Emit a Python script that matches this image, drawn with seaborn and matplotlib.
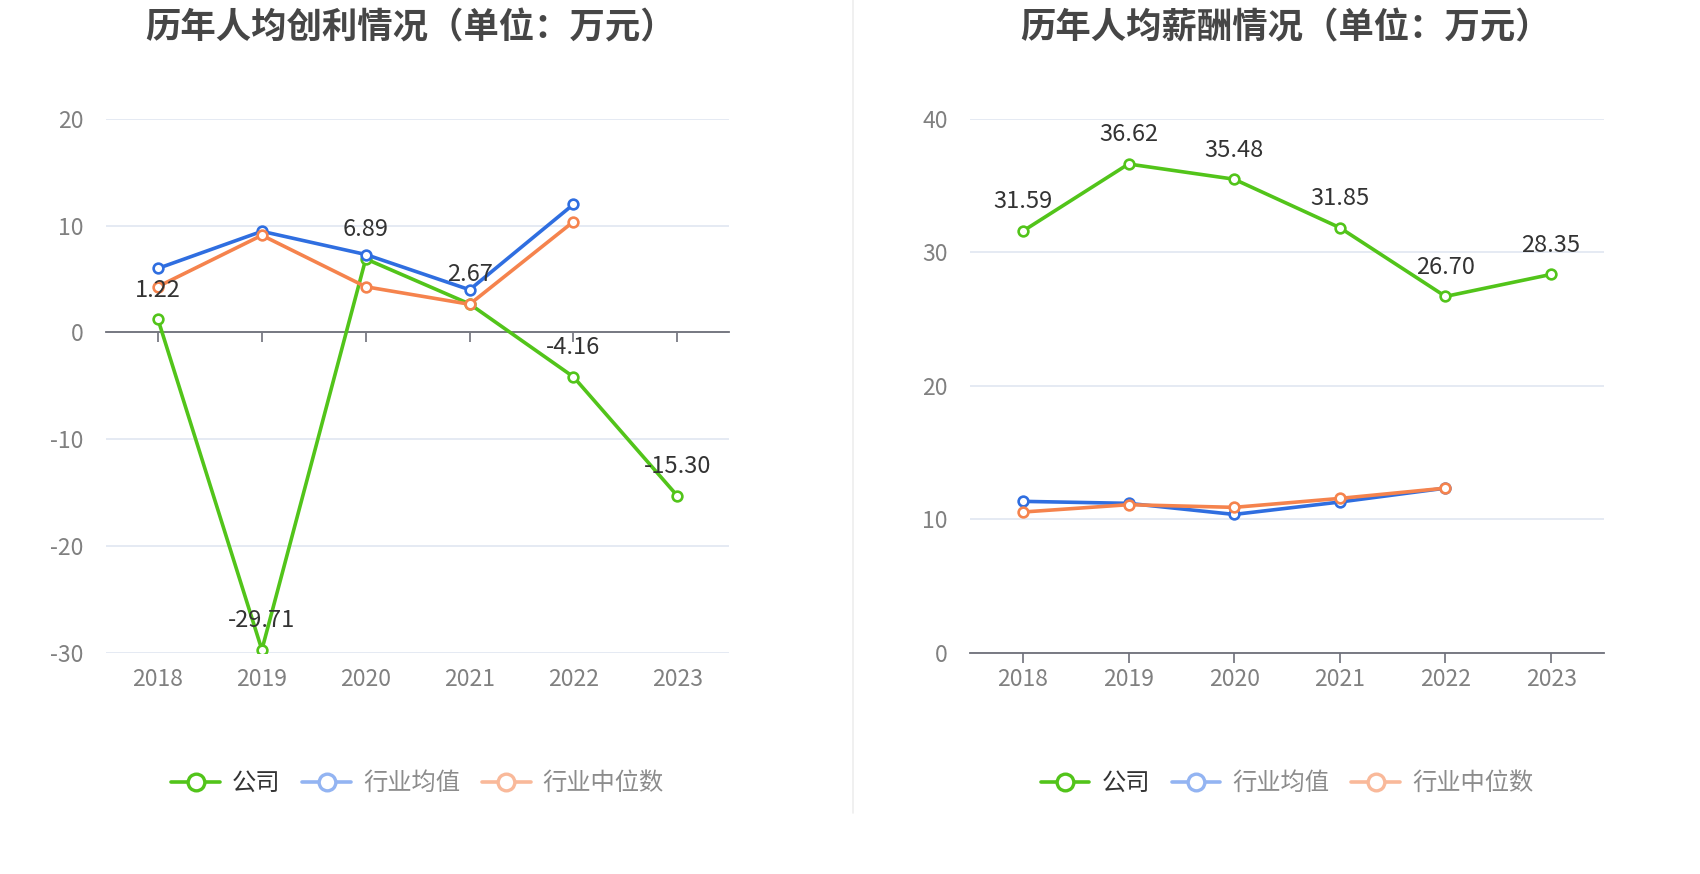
import matplotlib
matplotlib.use("Agg")
import matplotlib.pyplot as plt
import numpy as np
import pandas as pd
import seaborn as sns
from matplotlib.lines import Line2D

years = ["2018", "2019", "2020", "2021", "2022", "2023"]

profit_company = [1.22, -29.71, 6.89, 2.67, -4.16, -15.30]
profit_ind_mean = [6.0, 9.47, 7.3, 4.0, 12.0]
profit_ind_median = [4.3, 9.1, 4.28, 2.64, 10.38]

salary_company = [31.59, 36.62, 35.48, 31.85, 26.70, 28.35]
salary_ind_mean = [11.35, 11.2, 10.37, 11.3, 12.34]
salary_ind_median = [10.55, 11.1, 10.9, 11.57, 12.34]

titles = ["历年人均创利情况（单位：万元）", "历年人均薪酬情况（单位：万元）"]
series_names = ["公司", "行业均值", "行业中位数"]

GREEN = "#52c41a"
BLUE = "#2f6ee0"
ORANGE = "#f5834d"
GREEN_L = "#52c41a"
BLUE_L = "#93b4f2"
ORANGE_L = "#f9b99a"

sns.set_theme(style="white")
plt.rcParams["font.family"] = ["Noto Sans CJK SC", "DejaVu Sans"]
plt.rcParams["axes.unicode_minus"] = False


def draw_panel(ax, company, mean, median, ylim, yticks, zero_axis):
    x_all = np.arange(len(years))
    frames = [
        (company, GREEN),
        (mean, BLUE),
        (median, ORANGE),
    ]
    for vals, color in frames:
        df = pd.DataFrame({"x": x_all[: len(vals)], "y": vals})
        sns.lineplot(
            data=df, x="x", y="y", ax=ax, color=color, linewidth=2.6,
            marker="o", markersize=7, markerfacecolor="white",
            markeredgecolor=color, markeredgewidth=1.9, zorder=3,
        )

    for xi, v in zip(x_all, company):
        ax.annotate(f"{v:.2f}", (xi, v), xytext=(0, 21), textcoords="offset points",
                    ha="center", va="center", fontsize=17, color="#333333", zorder=5)

    ax.set_xlim(-0.5, len(years) - 0.5)
    ax.set_ylim(*ylim)
    ax.set_yticks(yticks)
    ax.set_yticklabels([str(t) for t in yticks])
    ax.yaxis.grid(True, color="#e0e6f1", linewidth=1.2)
    ax.set_axisbelow(True)
    for s in ["top", "right", "left"]:
        ax.spines[s].set_visible(False)
    ax.spines["bottom"].set_position(("data", zero_axis))
    ax.spines["bottom"].set_color("#6e7079")
    ax.spines["bottom"].set_linewidth(1.3)
    ax.set_xticks(x_all)
    ax.tick_params(axis="x", bottom=True, direction="out", length=7, width=1.2,
                   color="#6e7079", labelbottom=False)
    ax.tick_params(axis="y", length=0, pad=16, labelsize=16.5, labelcolor="#808080")
    sec = ax.secondary_xaxis(0.0)
    sec.set_xticks(x_all)
    sec.set_xticklabels(years)
    sec.tick_params(bottom=True, length=0, pad=11, labelsize=16.5, labelcolor="#808080")
    sec.spines["bottom"].set_visible(False)
    ax.set_xlabel("")
    ax.set_ylabel("")


fig = plt.figure(figsize=(17, 8.74), dpi=100)
ax1 = fig.add_axes([0.0624, 0.253, 0.3666, 0.611])
ax2 = fig.add_axes([0.5706, 0.253, 0.3729, 0.611])

draw_panel(ax1, profit_company, profit_ind_mean, profit_ind_median,
           (-30, 20), [-30, -20, -10, 0, 10, 20], 0)
draw_panel(ax2, salary_company, salary_ind_mean, salary_ind_median,
           (0, 40), [0, 10, 20, 30, 40], 0)

title_shift = [-0.004, -0.001]
for ax, title, dx in zip([ax1, ax2], titles, title_shift):
    pos = ax.get_position()
    fig.text((pos.x0 + pos.x1) / 2 + dx, 0.968, title, ha="center", va="center",
             fontsize=25.5, fontweight="bold", color="#464646")

    handles = [
        Line2D([], [], color=GREEN_L, linewidth=2.6, marker="o", markersize=12,
               markerfacecolor="white", markeredgewidth=2.4),
        Line2D([], [], color=BLUE_L, linewidth=2.6, marker="o", markersize=12,
               markerfacecolor="white", markeredgewidth=2.4),
        Line2D([], [], color=ORANGE_L, linewidth=2.6, marker="o", markersize=12,
               markerfacecolor="white", markeredgewidth=2.4),
    ]
    leg = fig.legend(handles, series_names, loc="center",
                     bbox_to_anchor=((pos.x0 + pos.x1) / 2, 0.104), ncol=3,
                     frameon=False, fontsize=17.5, handlelength=2.0, handletextpad=0.5,
                     columnspacing=0.9)
    for txt, c in zip(leg.get_texts(), ["#333333", "#8c8c8c", "#8c8c8c"]):
        txt.set_color(c)

fig.add_artist(Line2D([0.502, 0.502], [0.07, 1.0], color="#eeeeee", linewidth=1.2,
                      transform=fig.transFigure))

fig.savefig("out.png", dpi=100, facecolor="white")
